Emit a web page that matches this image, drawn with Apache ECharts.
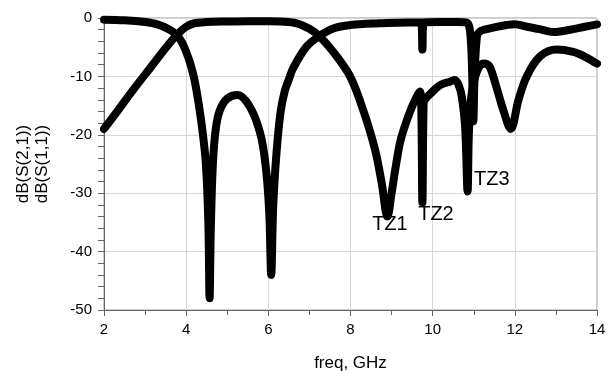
<!DOCTYPE html>
<html>
<head>
<meta charset="utf-8">
<script src="https://cdn.jsdelivr.net/npm/echarts@6/dist/echarts.min.js"></script>
<style>
  html, body { margin: 0; padding: 0; background: #fff; }
  #chart { width: 613px; height: 371px; }
</style>
</head>
<body>
<div id="chart"></div>
<script>
// S21 trace (passband + transmission zeros)
const s21Freq = [2.0, 2.3, 2.71, 3.12, 3.53, 3.77, 4.0, 4.2, 4.5, 5.0, 5.5, 6.0, 6.3, 6.69, 7.01, 7.24, 7.58, 7.99, 8.31, 8.6, 8.76, 8.9,
  9.0, 9.1, 9.2, 9.3, 9.45, 9.6, 9.69, 9.72, 9.75, 9.78, 9.81, 9.94, 10.18, 10.42, 10.54, 10.65, 10.71, 10.79, 10.85,
  10.88, 10.93, 11.0, 11.1, 11.23, 11.32, 11.4, 11.56, 11.72, 11.9, 12.09, 12.29, 12.61, 13.02, 13.42, 13.7, 14.0];
const s21Db = [-19.0, -16.2, -12.3, -8.6, -4.9, -2.9, -1.5, -0.9, -0.7, -0.6, -0.55, -0.55, -0.6, -0.9, -1.9, -3.1, -5.8, -10, -15.8, -22.6, -28.3, -34,
  -30, -25.5, -21.5, -19, -16, -13.6, -12.6, -14, -31.6, -14.5, -14, -13, -11.5, -10.9, -10.6, -11.8, -13.5, -18.6, -29.7,
  -20, -14, -11, -8.8, -7.8, -7.9, -8.5, -12, -15.8, -19, -14, -10, -6.6, -5.4, -5.8, -6.6, -7.8];

// S11 trace (reflection)
const s11Freq = [2.0, 2.5, 3.0, 3.3, 3.6, 3.77, 3.9, 4.0, 4.1, 4.2, 4.3, 4.4, 4.48, 4.54, 4.57, 4.6, 4.65, 4.72, 4.82, 5.0, 5.25, 5.55, 5.8, 5.93,
  6.02, 6.07, 6.12, 6.2, 6.3, 6.4, 6.5, 6.61, 6.93, 7.24, 7.58, 8.0, 8.7, 9.2, 9.72, 9.75, 9.78, 10.2, 10.6, 10.83,
  10.92, 10.97, 10.99, 11.02, 11.08, 11.15, 11.23, 11.5, 11.8, 12.0, 12.3, 12.6, 12.94, 13.1, 13.42, 13.7, 14.0];
const s11Db = [-0.3, -0.4, -0.7, -1.1, -2.0, -2.9, -4.2, -5.8, -7.8, -10.5, -14.5, -19.5, -25, -35, -48, -36, -25, -19, -15.8, -13.8, -13.2, -15.2, -19.7, -25,
  -33, -44, -32, -23, -16, -12.5, -10.5, -8.5, -4.9, -3.1, -1.8, -1.2, -0.9, -0.8, -0.75, -5.4, -0.75, -0.7, -0.7, -0.8,
  -3, -12, -17.7, -10, -3, -2.3, -2.05, -1.6, -1.2, -1.05, -1.5, -1.9, -2.4, -2.3, -1.9, -1.5, -1.1];

// transmission zero annotations
const tzFreq = [8.96, 10.08, 11.44];
const tzDb = [-35.4, -33.7, -27.7];
const tzText = ['TZ1', 'TZ2', 'TZ3'];

const FONT = '"Liberation Sans", Arial, sans-serif';

function pairs(xs, ys) {
  return xs.map((x, i) => [x, ys[i]]);
}

const lineStyle = { color: '#000', width: 8, cap: 'round', join: 'round' };

const chart = echarts.init(document.getElementById('chart'), null, { renderer: 'canvas' });

chart.setOption({
  animation: false,
  backgroundColor: '#fff',
  grid: {
    left: 104, right: 16, top: 18, bottom: 61,
    outerBoundsMode: 'none',
    containLabel: false,
    show: true, borderColor: '#999', borderWidth: 1
  },
  xAxis: {
    type: 'value',
    min: 2, max: 14, interval: 2,
    name: 'freq, GHz',
    nameLocation: 'middle',
    nameGap: 45,
    nameTextStyle: { fontFamily: FONT, fontSize: 17, color: '#000' },
    axisLine: { show: true, onZero: false, lineStyle: { color: '#666', width: 1 } },
    axisTick: { show: true, length: 6, lineStyle: { color: '#666' } },
    minorTick: { show: true, splitNumber: 2, length: 5, lineStyle: { color: '#666' } },
    splitLine: { show: true, lineStyle: { color: '#d6d6d6', width: 1 } },
    axisLabel: { fontFamily: FONT, fontSize: 15, color: '#000', margin: 12 }
  },
  yAxis: {
    type: 'value',
    min: -50, max: 0, interval: 10,
    name: 'dB(S(2,1))\ndB(S(1,1))',
    nameLocation: 'middle',
    nameRotate: 90,
    nameGap: 52,
    nameTextStyle: { fontFamily: FONT, fontSize: 17, color: '#000', lineHeight: 19 },
    axisLine: { show: true, lineStyle: { color: '#666', width: 1 } },
    axisTick: { show: true, length: 6, lineStyle: { color: '#666' } },
    minorTick: { show: true, splitNumber: 5, length: 6, lineStyle: { color: '#666' } },
    splitLine: { show: true, lineStyle: { color: '#d6d6d6', width: 1 } },
    axisLabel: { fontFamily: FONT, fontSize: 15, color: '#000', margin: 12 }
  },
  series: [
    {
      name: 'dB(S(1,1))',
      type: 'line',
      data: pairs(s11Freq, s11Db),
      showSymbol: false,
      smooth: 0.35,
      lineStyle: lineStyle
    },
    {
      name: 'dB(S(2,1))',
      type: 'line',
      data: pairs(s21Freq, s21Db),
      showSymbol: false,
      smooth: 0.35,
      lineStyle: lineStyle,
      markPoint: {
        symbol: 'circle',
        symbolSize: 0,
        label: {
          show: true,
          position: 'inside',
          fontFamily: FONT,
          fontSize: 20,
          color: '#000',
          formatter: (p) => p.name
        },
        data: tzText.map((t, i) => ({ name: t, coord: [tzFreq[i], tzDb[i]] }))
      }
    }
  ]
});
</script>
</body>
</html>
